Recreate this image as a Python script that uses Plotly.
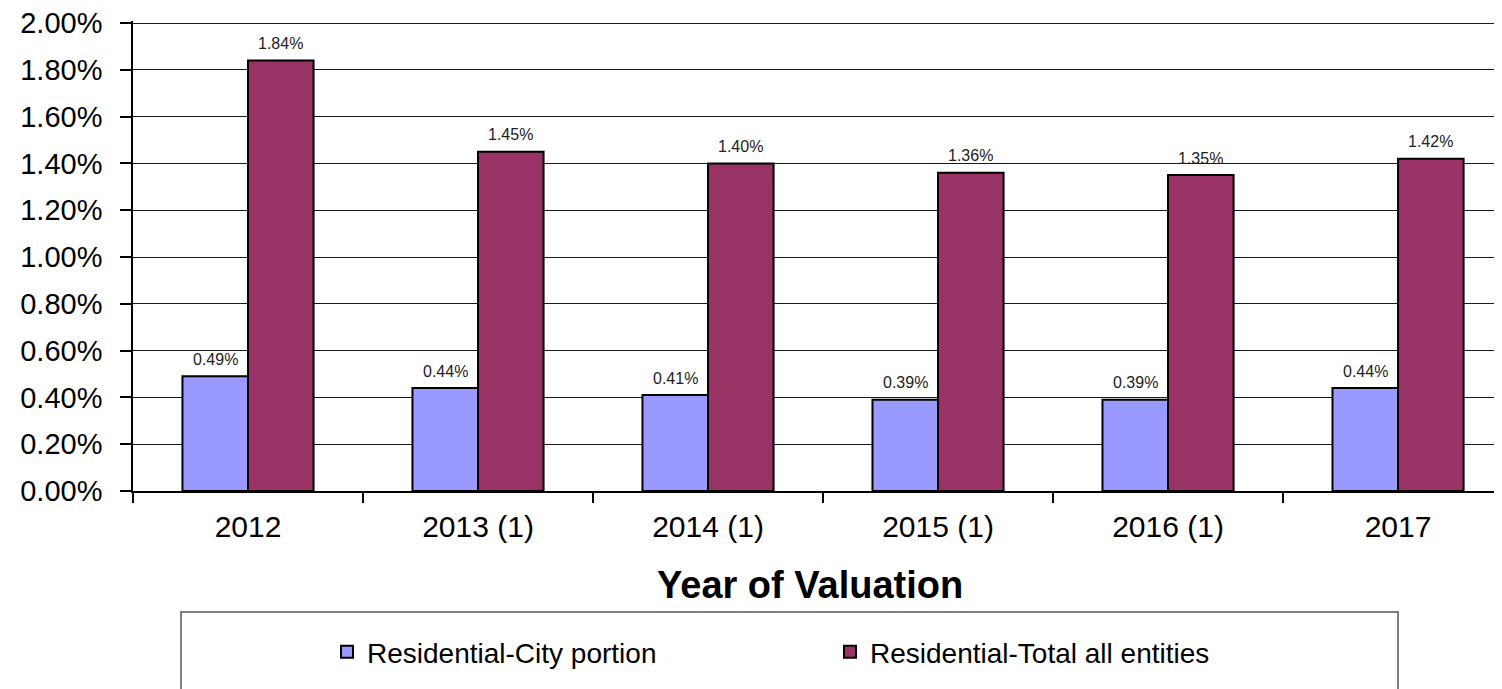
import plotly.graph_objects as go

categories = ["2012", "2013 (1)", "2014 (1)", "2015 (1)", "2016 (1)", "2017"]
city_portion = [0.0049, 0.0044, 0.0041, 0.0039, 0.0039, 0.0044]
total_entities = [0.0184, 0.0145, 0.0140, 0.0136, 0.0135, 0.0142]
series_names = ["Residential-City portion", "Residential-Total all entities"]
y_ticks = [0.0, 0.002, 0.004, 0.006, 0.008, 0.010, 0.012, 0.014, 0.016, 0.018, 0.020]

FONT = "Liberation Sans, Arial, sans-serif"
colors = ["#9999FF", "#993366"]

# page body has an 8px default margin; figure is sized so that the plot lands
# where the reference has it.
W, H = 1494, 681
L, T = 125, 13
PH = 470
B = H - T - PH
PW = W - L
Y_TOP = 0.02 * PH / 468  # keep 2.00% gridline just inside the plot edge


def px_x(px):
    return (px - 8 - L) / PW


def px_y(py):
    return (T + PH - (py - 8)) / PH


fig = go.Figure()
for name, vals, col in zip(series_names, [city_portion, total_entities], colors):
    fig.add_trace(go.Bar(
        x=categories, y=vals, name=name,
        marker=dict(color=col, line=dict(color="#000000", width=2)),
    ))

# data labels above bars
bar_px = 65
for i, cat in enumerate(categories):
    for vals, xs in [(city_portion, -bar_px / 2), (total_entities, bar_px / 2)]:
        fig.add_annotation(
            x=i, y=vals[i], xref="x", yref="y",
            text=f"{vals[i]*100:.2f}%", showarrow=False,
            xshift=xs, yshift=17, yanchor="middle",
            font=dict(family=FONT, size=16, color="#222222"),
        )

fig.add_annotation(
    x=px_x(810), y=px_y(585), xref="paper", yref="paper",
    text="<b>Year of Valuation</b>", showarrow=False, yanchor="middle", xanchor="center",
    font=dict(family=FONT, size=38, color="#000000"),
)

fig.add_shape(
    type="rect", xref="paper", yref="paper",
    x0=px_x(181), x1=px_x(1398),
    y0=px_y(612), y1=px_y(720),
    line=dict(color="#555555", width=1.5), fillcolor="rgba(0,0,0,0)",
)

fig.update_layout(
    width=W, height=H,
    margin=dict(l=L, r=0, t=T, b=B),
    plot_bgcolor="white", paper_bgcolor="white",
    barmode="group", bargap=0.43, bargroupgap=0,
    showlegend=True,
    legend=dict(
        orientation="h", x=px_x(327), xanchor="left",
        y=px_y(652), yanchor="middle",
        entrywidth=458, entrywidthmode="pixels",
        font=dict(family=FONT, size=28, color="#000000"),
        bgcolor="rgba(0,0,0,0)", borderwidth=0,
    ),
    font=dict(family=FONT, color="#000000"),
)

fig.update_xaxes(
    type="category", range=[-0.5, 5.452], automargin=False,
    tickson="boundaries", ticks="outside", ticklen=10, tickcolor="#000000", tickwidth=1.5,
    showline=True, linecolor="#000000", linewidth=1.5,
    showgrid=False,
    tickfont=dict(family=FONT, size=30, color="#000000"),
    ticklabelstandoff=8,
)
fig.update_yaxes(
    range=[0, Y_TOP], tickvals=y_ticks, tickformat=".2%", automargin=False,
    ticklabeloverflow="allow",
    ticks="outside", ticklen=11, tickcolor="#000000", tickwidth=1.5,
    showline=True, linecolor="#000000", linewidth=1.5,
    showgrid=True, gridcolor="#1a1a1a", gridwidth=1.3,
    zeroline=False,
    tickfont=dict(family=FONT, size=29, color="#000000"),
    ticklabelstandoff=12,
)

fig.write_html("out.html")
